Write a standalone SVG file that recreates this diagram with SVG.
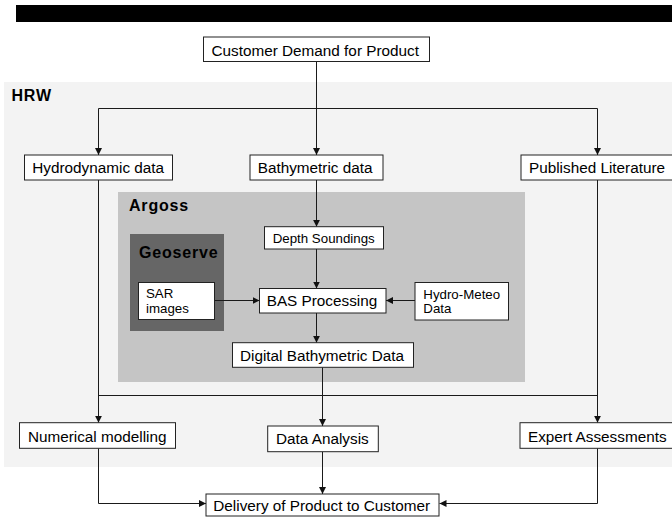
<svg xmlns="http://www.w3.org/2000/svg" width="672" height="517" viewBox="0 0 672 517">
<style>
text{font-family:"Liberation Sans",Arial,Helvetica,sans-serif;fill:#000}
.t{font-size:15.3px}
.s{font-size:13.3px}
.lbl{font-size:16px;font-weight:bold;letter-spacing:0.8px}
.box{fill:#fff;stroke:#222;stroke-width:1}
.ln{fill:none;stroke:#1a1a1a;stroke-width:1}
.arr{marker-end:url(#ah)}
</style>
<defs>
<marker id="ah" markerUnits="userSpaceOnUse" markerWidth="8" markerHeight="8" refX="7" refY="3.5" orient="auto">
<path d="M0,0 L7,3.5 L0,7 Z" fill="#111"/>
</marker>
</defs>
<rect x="16" y="5" width="656" height="17" fill="#000"/>
<g id="region-hrw">
<rect x="4" y="82" width="668" height="385" fill="#f3f3f3"/>
<text class="lbl" x="11.5" y="100.7">HRW</text>
</g>
<g id="region-argoss">
<rect x="118" y="192" width="407" height="190" fill="#c5c5c5"/>
<text class="lbl" x="129" y="210.7">Argoss</text>
</g>
<g id="region-geoserve">
<rect x="130" y="234" width="94" height="97" fill="#666666"/>
<text class="lbl" x="139" y="258.3">Geoserve</text>
</g>
<g id="connectors">
<path class="ln arr" d="M316.5,61.7 V155"/>
<path class="ln" d="M98.5,108.5 H597.5"/>
<path class="ln arr" d="M98.5,108.5 V155"/>
<path class="ln arr" d="M597.5,108.5 V155"/>
<path class="ln arr" d="M316.5,180 V226.7"/>
<path class="ln arr" d="M316.5,249 V288.5"/>
<path class="ln arr" d="M214.3,300.5 H259.5"/>
<path class="ln arr" d="M415,300.5 H386"/>
<path class="ln arr" d="M316.5,313 V342.7"/>
<path class="ln arr" d="M322.5,367.3 V426"/>
<path class="ln arr" d="M98.5,180 V422.7"/>
<path class="ln arr" d="M597.5,180 V422.7"/>
<path class="ln" d="M98.5,395.5 H597.5"/>
<path class="ln arr" d="M98.5,448.3 V503.5 H206"/>
<path class="ln arr" d="M322.5,451.7 V494"/>
<path class="ln arr" d="M597.5,448.3 V503.5 H439.5"/>
</g>
<g id="customer-demand">
<rect class="box" x="203.5" y="37" width="226" height="24.5"/>
<text class="t" x="211.5" y="55.5">Customer Demand for Product</text>
</g>
<g id="hydrodynamic-data">
<rect class="box" x="24.5" y="155" width="148" height="25"/>
<text class="t" x="32.3" y="173.3">Hydrodynamic data</text>
</g>
<g id="bathymetric-data">
<rect class="box" x="250" y="155" width="133" height="25"/>
<text class="t" x="257.7" y="173.3">Bathymetric data</text>
</g>
<g id="published-literature">
<rect class="box" x="521" y="155" width="160" height="25"/>
<text class="t" x="529" y="173.3">Published Literature</text>
</g>
<g id="depth-soundings">
<rect class="box" x="264.5" y="226.7" width="119" height="22.3"/>
<text class="s" x="272.7" y="243.3">Depth Soundings</text>
</g>
<g id="sar-images">
<rect class="box" x="138.5" y="282.5" width="76" height="37"/>
<text class="s" x="146" y="298.3">SAR</text>
<text class="s" x="146" y="312.7">images</text>
</g>
<g id="bas-processing">
<rect class="box" x="259.5" y="288.5" width="126.5" height="24.5"/>
<text class="t" x="266.7" y="306">BAS Processing</text>
</g>
<g id="hydro-meteo-data">
<rect class="box" x="415" y="282.5" width="93.5" height="37.5"/>
<text class="s" x="423.3" y="298.7">Hydro-Meteo</text>
<text class="s" x="423.3" y="312.7">Data</text>
</g>
<g id="digital-bathymetric-data">
<rect class="box" x="232.5" y="342.7" width="181" height="24.6"/>
<text class="t" x="240" y="360.7">Digital Bathymetric Data</text>
</g>
<g id="numerical-modelling">
<rect class="box" x="19.5" y="422.7" width="156" height="25.6"/>
<text class="t" x="27.9" y="441.7">Numerical modelling</text>
</g>
<g id="data-analysis">
<rect class="box" x="267.7" y="426" width="110.6" height="25.7"/>
<text class="t" x="276" y="444.3">Data Analysis</text>
</g>
<g id="expert-assessments">
<rect class="box" x="520" y="422.7" width="160" height="25.6"/>
<text class="t" x="528" y="441.7">Expert Assessments</text>
</g>
<g id="delivery">
<rect class="box" x="206" y="494" width="233" height="22"/>
<text class="t" x="213.3" y="511">Delivery of Product to Customer</text>
</g>
</svg>
